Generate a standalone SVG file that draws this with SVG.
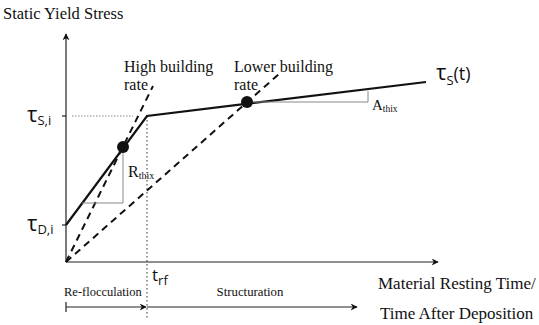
<svg xmlns="http://www.w3.org/2000/svg" width="539" height="325" viewBox="0 0 539 325">
<defs>
<marker id="ah" viewBox="0 0 10 10" refX="9" refY="5" markerWidth="9" markerHeight="7" orient="auto" markerUnits="userSpaceOnUse"><path d="M0,0 L10,5 L0,10 L3,5 Z" fill="#111"/></marker>
</defs>
<style>
.t{font-family:"Liberation Serif","Times New Roman",serif;fill:#111}
.g{font-family:"Open Sans","DejaVu Sans",sans-serif;fill:#111}
.ax{stroke:#222;stroke-width:1.2;fill:none}
.thin{stroke:#888;stroke-width:1;fill:none}
.dash{stroke:#111;stroke-width:2;stroke-dasharray:7,5;fill:none}
.solid{stroke:#111;stroke-width:2.2;fill:none}
.dot{stroke:#333;stroke-width:1;stroke-dasharray:1.5,2.5;fill:none}
</style>
<g id="axes">
<line class="ax" x1="66" y1="262" x2="66" y2="34" marker-end="url(#ah)"/>
<line class="ax" x1="66" y1="262" x2="438" y2="262" marker-end="url(#ah)"/>
<line class="ax" x1="62" y1="116" x2="66" y2="116"/>
<line class="ax" x1="62" y1="225" x2="66" y2="225"/>
<text class="t" x="3" y="19" font-size="16.5">Static Yield Stress</text>
<text class="g" x="27" y="122" font-size="22">τ<tspan font-size="13" dy="3">S,i</tspan></text>
<text class="g" x="27" y="231" font-size="22">τ<tspan font-size="13" dy="3">D,i</tspan></text>
<text class="t" x="378" y="289" font-size="17">Material Resting Time/</text>
<text class="t" x="380" y="319" font-size="17">Time After Deposition</text>
</g>
<g id="connectors">
<line class="thin" x1="72" y1="116" x2="133" y2="116" stroke-dasharray="1.5,1.5"/>
<line class="dot" x1="147" y1="116" x2="147" y2="320"/>
<line class="dash" x1="66" y1="262" x2="153" y2="86"/>
<line class="dash" x1="66" y1="262" x2="279" y2="74"/>
<polyline class="solid" points="66,225 147,116 426,82"/>
<polyline class="thin" points="123,147 123,203 82,203"/>
<polyline class="thin" points="247,102 368,102 368,91"/>
<line class="ax" x1="66" y1="302" x2="66" y2="312"/>
<line class="ax" x1="66" y1="307" x2="146" y2="307" marker-end="url(#ah)"/>
<line class="ax" x1="147" y1="307" x2="357" y2="307" marker-end="url(#ah)"/>
</g>
<g id="dot1"><circle cx="123" cy="147" r="6" fill="#111"/></g>
<g id="dot2"><circle cx="247" cy="102" r="6" fill="#111"/></g>
<g id="labels">
<text class="t" x="124" y="72" font-size="16">High building</text>
<text class="t" x="124" y="90" font-size="16">rate</text>
<text class="t" x="234" y="72" font-size="16">Lower building</text>
<text class="t" x="234" y="90" font-size="16">rate</text>
<text class="g" x="436" y="80" font-size="22">τ<tspan font-size="13" dy="5">S</tspan><tspan font-size="18" dy="-5">(t)</tspan></text>
<text class="t" x="128" y="177" font-size="16">R<tspan font-size="10" dy="2">thix</tspan></text>
<text class="t" x="372" y="110" font-size="15">A<tspan font-size="9.5" dy="2">thix</tspan></text>
<text class="g" x="152" y="281" font-size="17">t<tspan font-size="13" dy="4">rf</tspan></text>
<text class="t" x="64" y="296" font-size="12.5">Re-flocculation</text>
<text class="t" x="250" y="296" font-size="12.8" text-anchor="middle">Structuration</text>
</g>
</svg>
